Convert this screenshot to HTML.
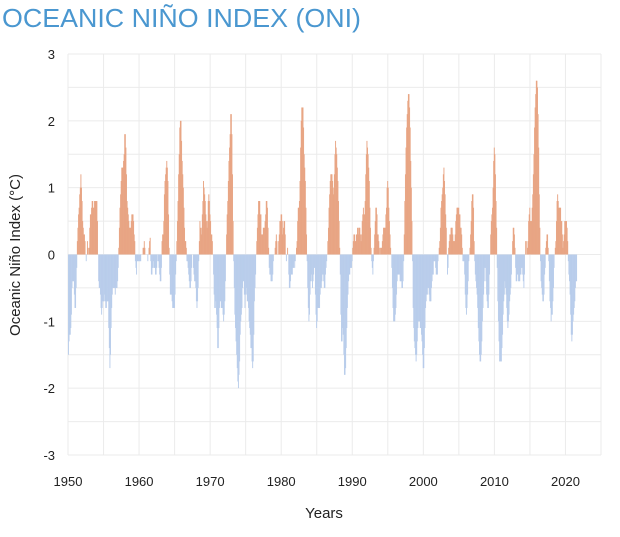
<!DOCTYPE html>
<html><head><meta charset="utf-8"><style>
body{margin:0;background:#fff;width:620px;height:532px;overflow:hidden;font-family:"Liberation Sans",sans-serif}
</style></head><body>
<svg id="chart" width="620" height="532" xmlns="http://www.w3.org/2000/svg">
<text x="2" y="27" font-size="26" fill="#4a97d0" textLength="359" lengthAdjust="spacingAndGlyphs" font-family="Liberation Sans, sans-serif">OCEANIC NIÑO INDEX (ONI)</text>
<g id="grid"></g>
<g id="bars"></g>
<g id="axes"></g>
<text x="324" y="518" font-size="15" text-anchor="middle" fill="#222">Years</text>
<text transform="translate(20,255) rotate(-90)" font-size="15" text-anchor="middle" fill="#222">Oceanic Niño Index (°C)</text>
</svg>
<script>
const startYear = 1950;
const oniValues = [
-1.5,-1.3,-1.2,-1.2,-1.1,-0.9,-0.5,-0.4,-0.4,-0.4,-0.6,-0.8,
-0.8,-0.5,-0.2,0.2,0.4,0.6,0.7,0.9,1.0,1.2,1.0,0.8,
0.5,0.4,0.3,0.3,0.2,0.0,-0.1,0.0,0.2,0.1,0.0,0.1,
0.4,0.6,0.6,0.7,0.8,0.8,0.7,0.7,0.8,0.8,0.8,0.8,
0.8,0.5,0.0,-0.4,-0.5,-0.5,-0.6,-0.8,-0.9,-0.8,-0.7,-0.7,
-0.7,-0.6,-0.7,-0.8,-0.8,-0.7,-0.7,-0.7,-1.1,-1.4,-1.7,-1.5,
-1.1,-0.8,-0.6,-0.5,-0.5,-0.5,-0.5,-0.6,-0.5,-0.5,-0.5,-0.4,
-0.2,0.1,0.4,0.7,0.9,1.1,1.3,1.3,1.3,1.4,1.5,1.8,
1.8,1.6,1.2,0.8,0.7,0.6,0.5,0.4,0.4,0.4,0.5,0.6,
0.6,0.6,0.5,0.3,0.2,-0.1,-0.2,-0.3,-0.1,-0.1,-0.1,-0.1,
-0.1,-0.1,-0.1,0.0,0.0,0.0,0.1,0.1,0.2,0.1,0.0,0.0,
0.0,0.0,-0.1,0.0,0.1,0.2,0.25,-0.1,-0.3,-0.3,-0.2,-0.1,
-0.2,-0.2,-0.2,-0.3,-0.3,-0.2,0.0,-0.1,-0.1,-0.2,-0.3,-0.4,
-0.4,-0.2,0.2,0.3,0.3,0.5,0.9,1.1,1.2,1.3,1.4,1.3,
1.1,0.6,0.1,-0.3,-0.6,-0.6,-0.6,-0.7,-0.8,-0.8,-0.8,-0.8,
-0.6,-0.3,-0.1,0.2,0.5,0.8,1.2,1.5,1.9,2.0,2.0,1.7,
1.4,1.2,1.0,0.7,0.4,0.2,0.2,0.1,-0.1,-0.1,-0.2,-0.3,
-0.4,-0.5,-0.5,-0.4,-0.2,0.0,0.0,-0.2,-0.3,-0.4,-0.4,-0.5,
-0.7,-0.8,-0.7,-0.5,-0.1,0.2,0.5,0.4,0.3,0.4,0.6,0.8,
1.1,1.0,0.9,0.8,0.6,0.5,0.4,0.5,0.8,0.9,0.8,0.6,
0.5,0.3,0.3,0.2,0.0,-0.3,-0.6,-0.8,-0.8,-0.7,-0.9,-1.1,
-1.4,-1.4,-1.1,-0.8,-0.7,-0.7,-0.8,-0.8,-0.8,-0.9,-1.0,-0.9,
-0.7,-0.4,0.0,0.3,0.6,0.8,1.1,1.4,1.6,1.8,2.1,2.1,
1.8,1.2,0.5,-0.1,-0.5,-0.9,-1.1,-1.3,-1.5,-1.7,-1.9,-2.0,
-1.8,-1.6,-1.2,-1.0,-0.9,-0.8,-0.5,-0.4,-0.4,-0.6,-0.8,-0.6,
-0.5,-0.6,-0.7,-0.7,-0.8,-1.0,-1.1,-1.2,-1.4,-1.4,-1.6,-1.7,
-1.6,-1.2,-0.7,-0.5,-0.3,0.0,0.2,0.4,0.6,0.8,0.8,0.8,
0.6,0.6,0.3,0.3,0.3,0.4,0.4,0.4,0.5,0.6,0.8,0.8,
0.7,0.4,0.1,-0.2,-0.3,-0.3,-0.4,-0.4,-0.4,-0.3,-0.1,0.0,
0.0,0.1,0.2,0.3,0.2,0.0,0.0,0.2,0.3,0.5,0.5,0.6,
0.6,0.5,0.3,0.4,0.5,0.5,0.3,0.0,-0.1,0.0,0.1,0.0,
-0.3,-0.5,-0.5,-0.4,-0.3,-0.3,-0.3,-0.2,-0.2,-0.1,-0.2,-0.1,
0.0,0.1,0.2,0.5,0.7,0.7,0.8,1.1,1.6,2.0,2.2,2.2,
2.2,1.9,1.5,1.3,1.1,0.7,0.3,-0.1,-0.5,-0.8,-1.0,-0.9,
-0.6,-0.4,-0.3,-0.4,-0.5,-0.4,-0.3,-0.2,-0.2,-0.6,-0.9,-1.1,
-1.0,-0.8,-0.8,-0.8,-0.8,-0.6,-0.5,-0.5,-0.4,-0.3,-0.3,-0.4,
-0.5,-0.5,-0.3,-0.2,-0.1,0.0,0.2,0.4,0.7,0.9,1.1,1.2,
1.2,1.2,1.1,0.9,1.0,1.2,1.5,1.7,1.6,1.5,1.3,1.1,
0.8,0.5,0.1,-0.3,-0.9,-1.3,-1.3,-1.1,-1.2,-1.5,-1.8,-1.8,
-1.7,-1.4,-1.1,-0.8,-0.6,-0.4,-0.3,-0.3,-0.2,-0.2,-0.2,-0.1,
0.1,0.2,0.3,0.3,0.2,0.2,0.3,0.3,0.4,0.3,0.4,0.4,
0.4,0.3,0.2,0.3,0.5,0.6,0.7,0.6,0.6,0.8,1.2,1.5,
1.7,1.6,1.5,1.3,1.1,0.7,0.4,0.1,-0.1,-0.2,-0.3,-0.1,
0.1,0.3,0.5,0.7,0.7,0.6,0.3,0.3,0.2,0.1,0.0,0.1,
0.1,0.1,0.2,0.3,0.4,0.4,0.4,0.4,0.6,0.7,1.0,1.1,
1.0,0.7,0.5,0.3,0.1,0.0,-0.2,-0.5,-0.8,-1.0,-1.0,-1.0,
-0.9,-0.8,-0.6,-0.4,-0.3,-0.3,-0.3,-0.3,-0.4,-0.4,-0.4,-0.5,
-0.5,-0.4,-0.1,0.3,0.8,1.2,1.6,1.9,2.1,2.3,2.4,2.4,
2.2,1.9,1.4,1.0,0.5,-0.1,-0.8,-1.1,-1.3,-1.4,-1.5,-1.6,
-1.5,-1.3,-1.1,-1.0,-1.0,-1.0,-1.1,-1.1,-1.2,-1.3,-1.5,-1.7,
-1.7,-1.4,-1.1,-0.8,-0.7,-0.6,-0.6,-0.5,-0.5,-0.6,-0.7,-0.7,
-0.7,-0.5,-0.4,-0.3,-0.3,-0.1,-0.1,-0.1,-0.2,-0.3,-0.3,-0.3,
-0.1,0.0,0.1,0.2,0.4,0.7,0.8,0.9,1.0,1.2,1.3,1.1,
0.9,0.6,0.4,0.0,-0.3,-0.2,0.1,0.2,0.3,0.3,0.4,0.4,
0.4,0.3,0.2,0.2,0.2,0.3,0.5,0.6,0.7,0.7,0.7,0.7,
0.6,0.6,0.4,0.4,0.3,0.1,-0.1,-0.1,-0.1,-0.3,-0.6,-0.8,
-0.9,-0.8,-0.6,-0.4,-0.1,0.0,0.1,0.3,0.5,0.8,0.9,0.9,
0.7,0.2,-0.1,-0.3,-0.4,-0.5,-0.6,-0.8,-1.1,-1.3,-1.5,-1.6,
-1.6,-1.5,-1.3,-1.0,-0.8,-0.6,-0.4,-0.2,-0.2,-0.4,-0.6,-0.7,
-0.8,-0.8,-0.6,-0.3,0.0,0.3,0.5,0.6,0.7,1.0,1.4,1.6,
1.5,1.2,0.8,0.4,-0.2,-0.7,-1.0,-1.3,-1.6,-1.6,-1.6,-1.6,
-1.4,-1.2,-0.9,-0.7,-0.6,-0.4,-0.5,-0.6,-0.8,-1.0,-1.1,-1.0,
-0.9,-0.7,-0.6,-0.5,-0.3,0.0,0.2,0.4,0.4,0.3,0.1,-0.2,
-0.4,-0.4,-0.3,-0.3,-0.4,-0.4,-0.4,-0.3,-0.3,-0.2,-0.2,-0.3,
-0.4,-0.5,-0.3,0.0,0.2,0.2,0.0,0.1,0.2,0.5,0.6,0.7,
0.5,0.5,0.5,0.7,0.9,1.2,1.5,1.9,2.2,2.4,2.6,2.6,
2.5,2.1,1.6,0.9,0.4,-0.1,-0.4,-0.5,-0.6,-0.7,-0.7,-0.6,
-0.3,-0.2,0.1,0.2,0.3,0.3,0.1,-0.1,-0.4,-0.7,-0.8,-1.0,
-0.9,-0.9,-0.7,-0.5,-0.2,0.0,0.1,0.2,0.5,0.8,0.9,0.8,
0.7,0.7,0.7,0.7,0.5,0.5,0.3,0.1,0.2,0.3,0.5,0.5,
0.5,0.5,0.4,0.2,-0.1,-0.3,-0.4,-0.6,-0.9,-1.2,-1.3,-1.2,
-1.0,-0.9,-0.8,-0.7,-0.5,-0.4,-0.4
];
const yTicks = [3,2,1,0,-1,-2,-3];
const xTicks = [1950,1960,1970,1980,1990,2000,2010,2020];

const NS = "http://www.w3.org/2000/svg";
const X0 = 68, X1 = 601, YT = 54, YB = 455;
const xMin = 1950, xMax = 2025, yMin = -3, yMax = 3;
const xScale = v => X0 + (v - xMin) / (xMax - xMin) * (X1 - X0);
const yScale = v => YB - (v - yMin) / (yMax - yMin) * (YB - YT);
function mk(tag, attrs, parent){const e=document.createElementNS(NS,tag);for(const k in attrs)e.setAttribute(k,attrs[k]);parent.appendChild(e);return e;}

const grid = document.getElementById('grid');
for (let v = yMin; v <= yMax + 1e-9; v += 0.5) {
  const l = mk('line',{x1:X0,x2:X1,y1:yScale(v),y2:yScale(v),stroke:'#ebebeb','stroke-width':1},grid);
  
  
}
for (let v = xMin; v <= xMax; v += 5) {
  const l = mk('line',{x1:xScale(v),x2:xScale(v),y1:YT,y2:YB,stroke:'#ebebeb','stroke-width':1},grid);
  
  
}

const bars = document.getElementById('bars');
const step = (xScale(1951) - xScale(1950)) / 12;
oniValues.forEach((v, i) => {
  const x = xScale(startYear + i / 12);
  const y0 = yScale(0), y1 = yScale(v);
  const r = mk('rect',{x:x,y:Math.min(y0,y1),width:step+0.35,height:Math.abs(y1-y0),fill:v>=0?'#e8a584':'#b9cdeb'},bars);
  
  
});

const axes = document.getElementById('axes');
yTicks.forEach(t => {
  const tx = mk('text',{x:55,y:yScale(t)+5,'font-size':13,'text-anchor':'end',fill:'#222'},axes);
  tx.textContent = t;
  
  
});
xTicks.forEach(t => {
  const tx = mk('text',{x:xScale(t),y:486,'font-size':13,'text-anchor':'middle',fill:'#222'},axes);
  tx.textContent = t;
  
  
});
</script>
</body></html>
